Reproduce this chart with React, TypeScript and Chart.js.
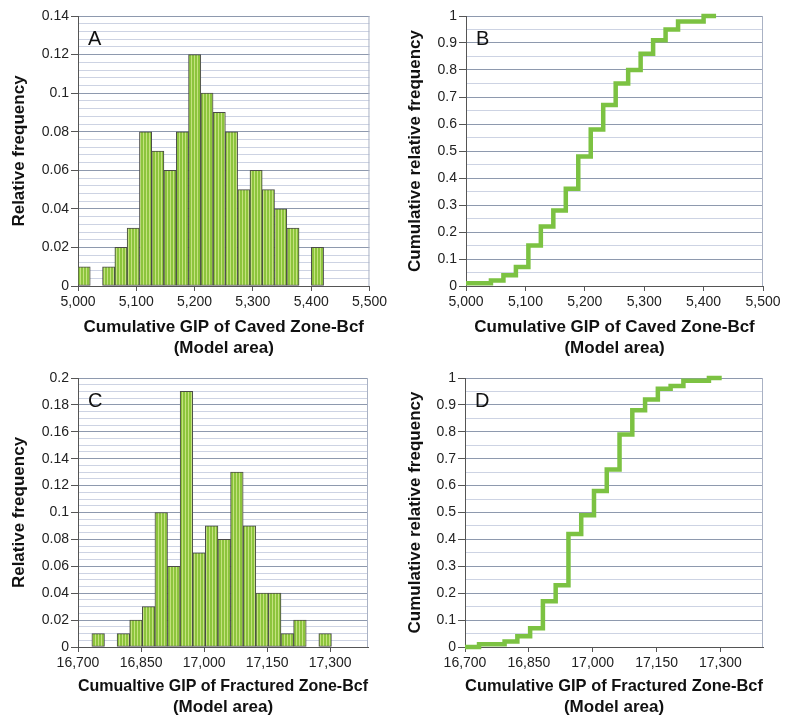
import React, { useEffect, useRef } from 'react';
import { Chart, registerables } from 'chart.js';

Chart.register(...registerables);

// ---------- Data ----------
// Panel A: histogram of cumulative GIP of caved zone (bin centres, Bcf)
const A_BIN_CENTERS = [
  5010.5, 5031.6, 5052.6, 5073.7, 5094.8, 5115.9, 5136.9, 5158.0, 5179.1, 5200.1,
  5221.2, 5242.3, 5263.3, 5284.4, 5305.5, 5326.6, 5347.6, 5368.7, 5389.8, 5410.8,
];
const A_FREQ = [
  0.01, 0, 0.01, 0.02, 0.03, 0.08, 0.07, 0.06, 0.08, 0.12,
  0.10, 0.09, 0.08, 0.05, 0.06, 0.05, 0.04, 0.03, 0, 0.02,
];

// Panel B: cumulative relative frequency (step points)
const B_X = [5000, 5042, 5063, 5084, 5105, 5126, 5147, 5168, 5189, 5210, 5231, 5252, 5273, 5294, 5315, 5336, 5357, 5400, 5421];
const B_CUM = [0.01, 0.02, 0.04, 0.07, 0.15, 0.22, 0.28, 0.36, 0.48, 0.58, 0.67, 0.75, 0.80, 0.86, 0.91, 0.95, 0.98, 1.0, 1.0];

// Panel C: histogram of cumulative GIP of fractured zone
const C_BIN_CENTERS = [
  16748, 16778, 16808, 16838, 16868, 16898, 16928, 16958, 16988, 17018,
  17048, 17078, 17108, 17138, 17168, 17198, 17228, 17258, 17288,
];
const C_FREQ = [
  0.01, 0, 0.01, 0.02, 0.03, 0.10, 0.06, 0.19, 0.07, 0.09,
  0.08, 0.13, 0.09, 0.04, 0.04, 0.01, 0.02, 0, 0.01,
];

// Panel D: cumulative relative frequency (step points)
const D_X = [16700, 16733, 16793, 16823, 16853, 16883, 16913, 16943, 16973, 17003, 17033, 17063, 17093, 17123, 17153, 17183, 17213, 17273, 17303];
const D_CUM = [0.0, 0.01, 0.02, 0.04, 0.07, 0.17, 0.23, 0.42, 0.49, 0.58, 0.66, 0.79, 0.88, 0.92, 0.96, 0.97, 0.99, 1.0, 1.0];

// Tick labels
const AB_X_TICKS = [5000, 5100, 5200, 5300, 5400, 5500];
const CD_X_TICKS = [16700, 16850, 17000, 17150, 17300];

// Titles
const TITLE_HIST_Y = 'Relative frequency';
const TITLE_CUM_Y = 'Cumulative relative frequency';
const TITLE_A_X = ['Cumulative GIP of Caved Zone-Bcf', '(Model area)'];
const TITLE_C_X = ['Cumualtive GIP of Fractured Zone-Bcf', '(Model area)'];
const TITLE_D_X = ['Cumulative GIP of Fractured Zone-Bcf', '(Model area)'];

// ---------- Styling ----------
const FONT = '"Liberation Sans", Arial, Helvetica, sans-serif';
const AXIS_COLOR = '#555555';
const MAJOR_GRID = '#8e99ae';
const MINOR_GRID = '#cdd3e3';
const LINE_GREEN = '#7cc242';

type Panel = {
  letter: string;
  kind: 'bar' | 'line';
  xs: number[];
  ys: number[];
  xMin: number;
  xMax: number;
  xTicks: number[];
  yMax: number;
  yStep: number;
  yMajor: number;
  yTitle: string;
  xTitle: string[];
  box: { left: number; top: number; w: number; h: number };
  plot: { left: number; top: number; right: number; bottom: number };
  yTitlePad: number;
  xTitlePad: number;
};

const PANELS: Panel[] = [
  {
    letter: 'A', kind: 'bar', xs: A_BIN_CENTERS, ys: A_FREQ,
    xMin: 5000, xMax: 5500, xTicks: AB_X_TICKS,
    yMax: 0.14, yStep: 0.004, yMajor: 0.02,
    yTitle: TITLE_HIST_Y, xTitle: TITLE_A_X,
    box: { left: 0, top: 0, w: 390, h: 360 },
    plot: { left: 78, top: 16, right: 370, bottom: 286 },
    yTitlePad: 9, xTitlePad: 1,
  },
  {
    letter: 'B', kind: 'line', xs: B_X, ys: B_CUM,
    xMin: 5000, xMax: 5500, xTicks: AB_X_TICKS,
    yMax: 1, yStep: 0.05, yMajor: 0.1,
    yTitle: TITLE_CUM_Y, xTitle: TITLE_A_X,
    box: { left: 390, top: 0, w: 397, h: 360 },
    plot: { left: 466, top: 16, right: 763, bottom: 286 },
    yTitlePad: 15, xTitlePad: 1,
  },
  {
    letter: 'C', kind: 'bar', xs: C_BIN_CENTERS, ys: C_FREQ,
    xMin: 16700, xMax: 17390, xTicks: CD_X_TICKS,
    yMax: 0.2, yStep: 0.005, yMajor: 0.02,
    yTitle: TITLE_HIST_Y, xTitle: TITLE_C_X,
    box: { left: 0, top: 360, w: 390, h: 362 },
    plot: { left: 78, top: 378, right: 368, bottom: 647 },
    yTitlePad: 9, xTitlePad: 4,
  },
  {
    letter: 'D', kind: 'line', xs: D_X, ys: D_CUM,
    xMin: 16700, xMax: 17400, xTicks: CD_X_TICKS,
    yMax: 1, yStep: 0.05, yMajor: 0.1,
    yTitle: TITLE_CUM_Y, xTitle: TITLE_D_X,
    box: { left: 390, top: 360, w: 397, h: 362 },
    plot: { left: 465, top: 378, right: 763, bottom: 647 },
    yTitlePad: 15, xTitlePad: 4,
  },
];

function makeStripePattern(ctx: CanvasRenderingContext2D): CanvasPattern | string {
  const c = document.createElement('canvas');
  c.width = 3;
  c.height = 4;
  const g = c.getContext('2d');
  if (!g) return '#9ccc4a';
  g.fillStyle = '#8cc43c';
  g.fillRect(0, 0, 3, 4);
  g.fillStyle = '#c4e27e';
  g.fillRect(2, 0, 1, 4);
  return ctx.createPattern(c, 'repeat') || '#9ccc4a';
}

function makeChart(canvas: HTMLCanvasElement, p: Panel): Chart {
  const ctx = canvas.getContext('2d') as CanvasRenderingContext2D;
  const isMajor = (v: number) => Math.abs(v / p.yMajor - Math.round(v / p.yMajor)) < 1e-6;
  const fmt = (v: number) => String(parseFloat(v.toFixed(4)));

  const yAxisW = p.plot.left - p.box.left;
  const xAxisH = p.box.top + p.box.h - p.plot.bottom;
  const padTop = p.plot.top - p.box.top;
  const padRight = p.box.left + p.box.w - p.plot.right;

  const points = p.xs
    .map((x, i) => ({ x, y: p.ys[i] }))
    .filter((d) => p.kind === 'line' || d.y > 0);

  const dataset: any =
    p.kind === 'bar'
      ? {
          type: 'bar',
          data: points,
          backgroundColor: makeStripePattern(ctx),
          borderColor: '#4a4a4a',
          borderWidth: 1,
          borderSkipped: false,
          barPercentage: 1,
          categoryPercentage: 1,
        }
      : {
          type: 'line',
          data: points,
          borderColor: LINE_GREEN,
          borderWidth: 4.5,
          stepped: true,
          pointRadius: 0,
          fill: false,
          clip: false,
          borderJoinStyle: 'miter',
          borderCapStyle: 'butt',
        };

  const decor = {
    id: 'panelDecor' + p.letter,
    beforeDatasetsDraw(chart: any) {
      const { ctx: c, chartArea } = chart;
      c.save();
      c.strokeStyle = '#aab2c4';
      c.lineWidth = 1;
      c.beginPath();
      c.moveTo(chartArea.right - 0.5, chartArea.top);
      c.lineTo(chartArea.right - 0.5, chartArea.bottom);
      c.stroke();
      c.restore();
    },
    afterDraw(chart: any) {
      const { ctx: c, chartArea } = chart;
      c.save();
      c.fillStyle = '#111111';
      c.font = '20px ' + FONT;
      c.textBaseline = 'alphabetic';
      c.textAlign = 'left';
      c.fillText(p.letter, chartArea.left + 10, chartArea.top + 29);
      c.restore();
    },
  };

  return new Chart(ctx, {
    type: p.kind,
    data: { datasets: [dataset] },
    plugins: [decor],
    options: {
      animation: false,
      responsive: false,
      devicePixelRatio: 1,
      layout: { padding: { top: padTop, right: padRight, left: 0, bottom: 0 } },
      plugins: {
        legend: { display: false },
        tooltip: { enabled: false },
        title: { display: false },
      },
      scales: {
        x: {
          type: 'linear',
          min: p.xMin,
          max: p.xMax,
          offset: false,
          afterBuildTicks: (axis: any) => {
            axis.ticks = p.xTicks.map((v) => ({ value: v }));
          },
          afterFit: (axis: any) => {
            axis.height = xAxisH;
          },
          grid: {
            display: true,
            drawOnChartArea: false,
            drawTicks: true,
            tickLength: 5,
            tickColor: AXIS_COLOR,
            offset: false,
          },
          border: { display: true, color: AXIS_COLOR, width: 1 },
          ticks: {
            autoSkip: false,
            maxRotation: 0,
            padding: 3,
            color: '#222222',
            font: { size: 14, family: FONT },
            callback: (v: any) => Number(v).toLocaleString('en-US'),
          },
          title: {
            display: true,
            text: p.xTitle,
            color: '#111111',
            font: { size: 17, weight: 'bold', family: FONT, lineHeight: 1.25 },
            padding: { top: 0, bottom: p.xTitlePad },
          },
        },
        y: {
          type: 'linear',
          min: 0,
          max: p.yMax,
          afterFit: (axis: any) => {
            axis.width = yAxisW;
          },
          grid: {
            display: true,
            drawOnChartArea: true,
            drawTicks: true,
            tickLength: 7,
            lineWidth: 1,
            color: (c: any) => (c.tick && isMajor(c.tick.value) ? MAJOR_GRID : MINOR_GRID),
            tickColor: (c: any) => (c.tick && isMajor(c.tick.value) ? AXIS_COLOR : 'rgba(0,0,0,0)'),
          },
          border: { display: true, color: AXIS_COLOR, width: 1 },
          ticks: {
            stepSize: p.yStep,
            autoSkip: false,
            padding: 2,
            color: '#222222',
            font: { size: 14, family: FONT },
            callback: (v: any) => (isMajor(Number(v)) ? fmt(Number(v)) : ''),
          },
          title: {
            display: true,
            text: p.yTitle,
            color: '#111111',
            font: { size: 17, weight: 'bold', family: FONT, lineHeight: 1.25 },
            padding: { top: p.yTitlePad, bottom: 0 },
          },
        },
      },
    } as any,
  });
}

export default function App() {
  const refs = [
    useRef<HTMLCanvasElement>(null),
    useRef<HTMLCanvasElement>(null),
    useRef<HTMLCanvasElement>(null),
    useRef<HTMLCanvasElement>(null),
  ];

  useEffect(() => {
    const charts: Chart[] = [];
    PANELS.forEach((p, i) => {
      const el = refs[i].current;
      if (el) charts.push(makeChart(el, p));
    });
    return () => {
      charts.forEach((c) => c.destroy());
    };
  }, []);

  return (
    <div
      style={{
        position: 'absolute',
        left: 0,
        top: 0,
        width: 787,
        height: 722,
        background: '#ffffff',
        overflow: 'hidden',
      }}
    >
      {PANELS.map((p, i) => (
        <canvas
          key={p.letter}
          ref={refs[i]}
          width={p.box.w}
          height={p.box.h}
          style={{
            position: 'absolute',
            left: p.box.left,
            top: p.box.top,
            width: p.box.w,
            height: p.box.h,
          }}
        />
      ))}
    </div>
  );
}
